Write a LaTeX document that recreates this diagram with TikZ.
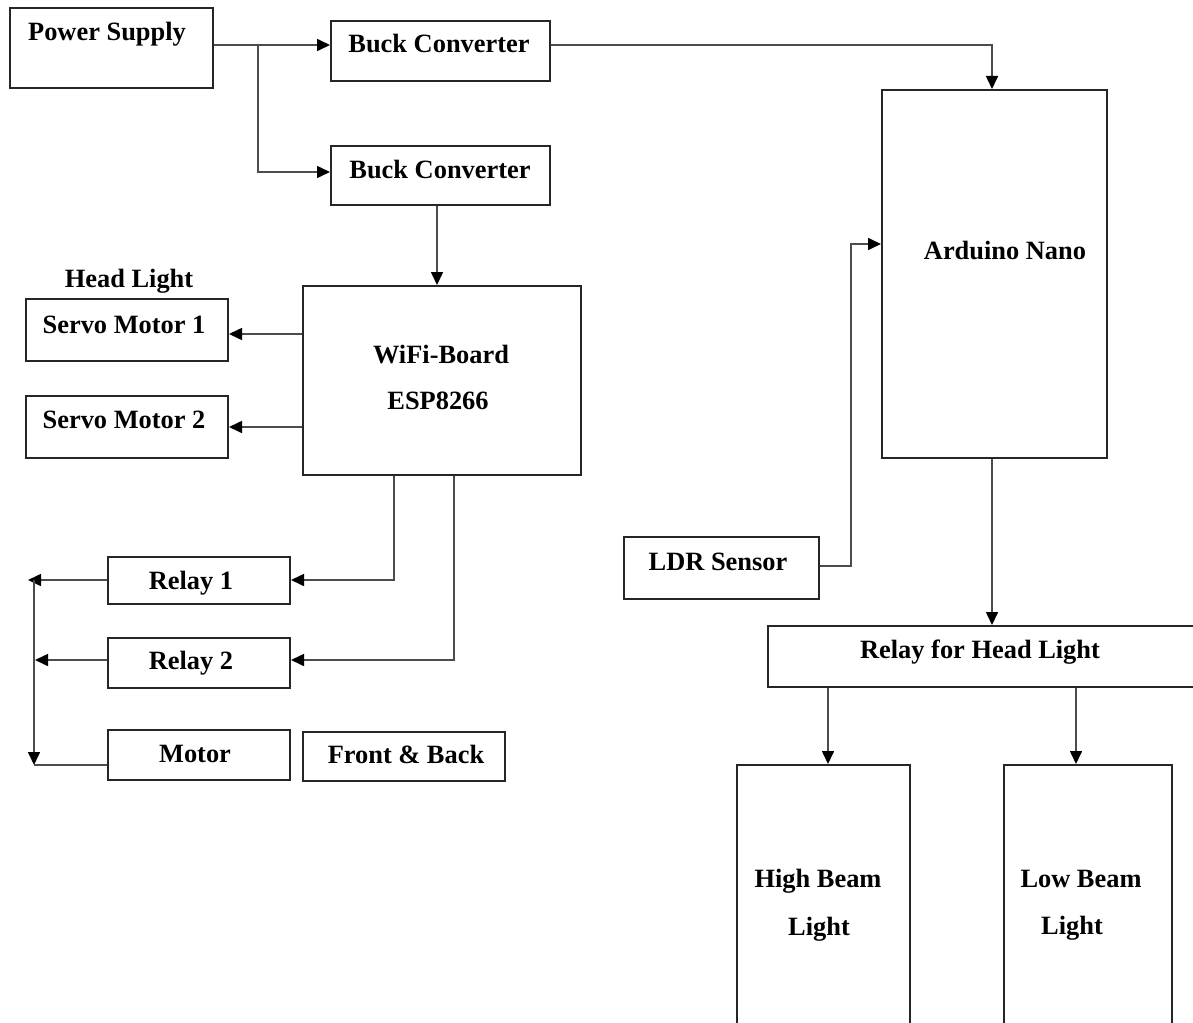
\documentclass[tikz,border=0pt]{standalone}
\usepackage{fontspec}
\setmainfont{Liberation Serif}
\usetikzlibrary{arrows.meta,fit}
\begin{document}
\begin{tikzpicture}[x=0.5pt,y=-0.5pt,
  box/.style={draw=black!85,line width=1pt,inner sep=0pt,rectangle,fill=none},
  lbl/.style={anchor=base,inner sep=0pt,font=\fontsize{13.2}{15}\selectfont\bfseries,text=black},
  conn/.style={draw=black!70,line width=0.8pt},
  arr/.style={conn,-{Triangle[length=6.5pt,width=6pt,color=black]}}]
\useasboundingbox[fill=white] (0,0) rectangle (1193,1022);
% boxes
\node[box,fit={(10,8) (213,88)}] (ps) {};
\node[box,fit={(331,21) (550,81)}] (bc1) {};
\node[box,fit={(331,146) (550,205)}] (bc2) {};
\node[box,fit={(882,90) (1107,458)}] (ard) {};
\node[box,fit={(303,286) (581,475)}] (wifi) {};
\node[box,fit={(26,299) (228,361)}] (sv1) {};
\node[box,fit={(26,396) (228,458)}] (sv2) {};
\node[box,fit={(108,557) (290,604)}] (rl1) {};
\node[box,fit={(108,638) (290,688)}] (rl2) {};
\node[box,fit={(108,730) (290,780)}] (mot) {};
\node[box,fit={(303,732) (505,781)}] (fb) {};
\node[box,fit={(624,537) (819,599)}] (ldr) {};
\node[box,fit={(768,626) (1198,687)}] (rhl) {};
\node[box,fit={(737,765) (910,1032)}] (hb) {};
\node[box,fit={(1004,765) (1172,1032)}] (lb) {};
% labels
\node[lbl] (tps) at (107,41) {Power Supply};
\node[lbl] (tbc1) at (439,53) {Buck Converter};
\node[lbl] (tbc2) at (440,178) {Buck Converter};
\node[lbl] (tard) at (1005,259) {Arduino Nano};
\node[lbl] (thl) at (129,287) {Head Light};
\node[lbl] (tsv1) at (124,333) {Servo Motor 1};
\node[lbl] (tsv2) at (124,428) {Servo Motor 2};
\node[lbl] (tw1) at (441,363) {WiFi-Board};
\node[lbl] (tw2) at (438,409) {ESP8266};
\node[lbl] (trl1) at (191,589) {Relay 1};
\node[lbl] (trl2) at (191,669) {Relay 2};
\node[lbl] (tmot) at (195,762) {Motor};
\node[lbl] (tfb) at (406,763) {Front \& Back};
\node[lbl] (tldr) at (718,570) {LDR Sensor};
\node[lbl] (trhl) at (980,658) {Relay for Head Light};
\node[lbl] (thb1) at (818,887) {High Beam};
\node[lbl] (thb2) at (819,935) {Light};
\node[lbl] (tlb1) at (1081,887) {Low Beam};
\node[lbl] (tlb2) at (1072,934) {Light};
% free ends
\coordinate (e1) at (28,580);
\coordinate (e2) at (35,660);
\coordinate (vtop) at (34,580);
\coordinate (vbot) at (34,765);
% connectors
\draw[arr] (ps.east |- 0,45) -- (bc1.west |- 0,45);
\draw[arr] (258,45) -- (258,172) -- (bc2.west |- 0,172);
\draw[arr] (bc1.east |- 0,45) -- (992,45) -- (ard.north -| 992,0);
\draw[arr] (bc2.south -| 437,0) -- (wifi.north -| 437,0);
\draw[arr] (wifi.west |- 0,334) -- (sv1.east |- 0,334);
\draw[arr] (wifi.west |- 0,427) -- (sv2.east |- 0,427);
\draw[arr] (wifi.south -| 394,0) -- (394,580) -- (rl1.east |- 0,580);
\draw[arr] (wifi.south -| 454,0) -- (454,660) -- (rl2.east |- 0,660);
\draw[arr] (rl1.west |- 0,580) -- (e1);
\draw[arr] (rl2.west |- 0,660) -- (e2);
\draw[arr] (vtop) -- (vbot);
\draw[conn] (mot.west |- 0,765) -- (vbot);
\draw[arr] (ldr.east |- 0,566) -- (851,566) -- (851,244) -- (ard.west |- 0,244);
\draw[arr] (ard.south -| 992,0) -- (rhl.north -| 992,0);
\draw[arr] (rhl.south -| 828,0) -- (hb.north -| 828,0);
\draw[arr] (rhl.south -| 1076,0) -- (lb.north -| 1076,0);
\end{tikzpicture}
\end{document}
